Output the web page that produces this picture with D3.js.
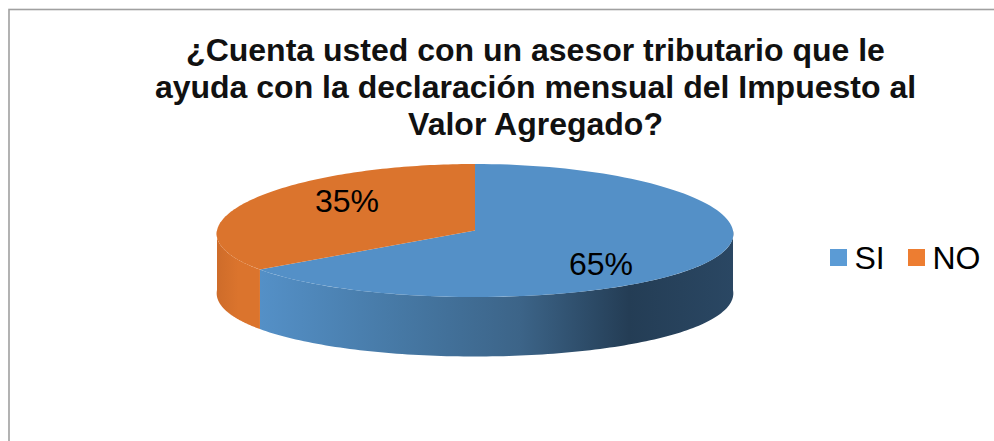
<!DOCTYPE html>
<html><head><meta charset="utf-8">
<script src="https://cdn.jsdelivr.net/npm/d3@7/dist/d3.min.js"></script>
<style>html,body{margin:0;padding:0;background:#fff}svg{display:block}text{font-family:"Liberation Sans",Arial,sans-serif}</style>
</head><body><script>
const categories = ["SI", "NO"];
const values = [65, 35];
const valueLabels = ["65%", "35%"];
const titleLines = ["¿Cuenta usted con un asesor tributario que le", "ayuda con la declaración mensual del Impuesto al", "Valor Agregado?"];
const topColors = ["#5490C7", "#DB742D"];
const legendColors = ["#5B9BD5", "#ED7D31"];
const sideStops = [[0,"#5490C7"],[0.3,"#4678A4"],[0.55,"#3C6488"],[0.78,"#243D55"],[1,"#2A4763"]];

const W = 994, H = 441;
const svg = d3.select("body").append("svg").attr("width", W).attr("height", H);

// frame
svg.append("rect").attr("x", 9).attr("y", 9.5).attr("width", W + 20).attr("height", H + 20)
  .attr("fill", "#fff").attr("stroke", "#a0a0a0").attr("stroke-width", 1.6);

// title
svg.append("g").selectAll("text").data(titleLines).join("text")
  .attr("x", 535.5).attr("y", (d, i) => 61 + i * 37)
  .attr("text-anchor", "middle").attr("font-size", 32).attr("font-weight", 700).attr("fill", "#111")
  .text(d => d);

// pie geometry
const cx = 475, cy = 230.5, rx = 258, ry = 66.5, depth = 59.5, persp = 0.05;
const xScale = d3.scaleLinear().domain([-1, 1]).range([cx - rx, cx + rx]);
const yScale = d3.scaleLinear().domain([-1, 1]).range([cy - ry, cy + ry]);
const px = t => xScale(Math.sin(t) / (1 + persp * Math.cos(t)));
const py = t => yScale(-Math.cos(t));
const pie = d3.pie().sort(null).value(d => d);
const arcs = pie(values);
const line = d3.line();
const samples = (a, b) => d3.range(0, 121).map(i => a + (b - a) * i / 120);

// gradients for the rim
const defs = svg.append("defs");
const grad = defs.append("linearGradient").attr("id", "rimBlue").attr("gradientUnits", "userSpaceOnUse")
  .attr("x1", px(arcs[1].startAngle)).attr("x2", cx + rx).attr("y1", 0).attr("y2", 0);
grad.selectAll("stop").data(sideStops).join("stop").attr("offset", d => d[0]).attr("stop-color", d => d[1]);
const grad2 = defs.append("linearGradient").attr("id", "rimOrange").attr("gradientUnits", "userSpaceOnUse")
  .attr("x1", cx - rx).attr("x2", px(arcs[1].startAngle)).attr("y1", 0).attr("y2", 0);
grad2.append("stop").attr("offset", 0).attr("stop-color", "#CE6C2A");
grad2.append("stop").attr("offset", 0.5).attr("stop-color", "#DB742D");

// rim: only the part of each slice facing the viewer (PI/2..3PI/2)
function rimPath(a, b) {
  const s = Math.max(a, Math.PI / 2), e = Math.min(b, 3 * Math.PI / 2);
  const pts = samples(s, e).map(t => [px(t), py(t)]);
  const low = samples(e, s).map(t => [px(t), py(t) + depth]);
  return line(pts.concat(low)) + "Z";
}
svg.append("g").selectAll("path").data(arcs).join("path")
  .attr("d", d => rimPath(d.startAngle, d.endAngle))
  .attr("fill", (d, i) => i === 0 ? "url(#rimBlue)" : "url(#rimOrange)");

// top face
function topPath(a, b) {
  return line([[cx, cy]].concat(samples(a, b).map(t => [px(t), py(t)]))) + "Z";
}
svg.append("g").selectAll("path").data(arcs).join("path")
  .attr("d", d => topPath(d.startAngle, d.endAngle))
  .attr("fill", (d, i) => topColors[i]);

// value labels
const labelPos = [[601, 275], [347, 212]];
svg.append("g").selectAll("text").data(valueLabels).join("text")
  .attr("x", (d, i) => labelPos[i][0]).attr("y", (d, i) => labelPos[i][1])
  .attr("text-anchor", "middle").attr("font-size", 32).attr("fill", "#000").text(d => d);

// legend
const legendX = d3.scaleOrdinal().domain(categories).range([830, 908]);
const lg = svg.append("g").selectAll("g").data(categories).join("g")
  .attr("transform", d => `translate(${legendX(d)},249)`);
lg.append("rect").attr("width", 17).attr("height", 17).attr("fill", (d, i) => legendColors[i]);
lg.append("text").attr("x", 24.5).attr("y", 20).attr("font-size", 32).attr("fill", "#000").text(d => d);
</script></body></html>
